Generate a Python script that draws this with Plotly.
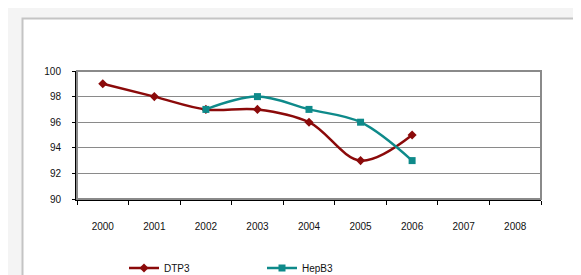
import plotly.graph_objects as go

years = ["2000", "2001", "2002", "2003", "2004", "2005", "2006", "2007", "2008"]
dtp3_years = ["2000", "2001", "2002", "2003", "2004", "2005", "2006"]
dtp3_values = [99, 98, 97, 97, 96, 93, 95]
hepb3_years = ["2002", "2003", "2004", "2005", "2006"]
hepb3_values = [97, 98, 97, 96, 93]
y_ticks = [90, 92, 94, 96, 98, 100]

W, H = 581, 275
L, R, T, B = 69, 533, 63, 191

def px_x(p):
    return (p - L) / (R - L)

def px_y(p):
    return (B - p) / (B - T)

fig = go.Figure()
fig.add_trace(go.Scatter(
    x=dtp3_years, y=dtp3_values, name="DTP3", mode="lines+markers",
    line=dict(color="#8B0A0A", width=2.5, shape="spline", smoothing=1),
    marker=dict(symbol="diamond", size=7, color="#8B0A0A"),
))
fig.add_trace(go.Scatter(
    x=hepb3_years, y=hepb3_values, name="HepB3", mode="lines+markers",
    line=dict(color="#0E8A8A", width=2.5, shape="spline", smoothing=1),
    marker=dict(symbol="square", size=7, color="#0E8A8A"),
))

shapes = [
    # outer white frame
    dict(type="rect", xref="paper", yref="paper", layer="below",
         x0=px_x(14.5), x1=px_x(573.5), y0=px_y(290), y1=px_y(10.5),
         fillcolor="white", line=dict(color="#c4c4c4", width=2)),
    # plot area border (top/right gray)
    dict(type="rect", xref="paper", yref="paper", layer="above",
         x0=0, x1=1, y0=0, y1=1, line=dict(color="#8a8a8a", width=2)),
]

fig.update_layout(
    width=W, height=H,
    margin=dict(l=L, r=W - R, t=T, b=H - B, pad=0, autoexpand=False),
    paper_bgcolor="#f4f4f4", plot_bgcolor="white",
    font=dict(family="Arial, Liberation Sans, sans-serif", size=10, color="#111111"),
    shapes=shapes,
    showlegend=True,
    legend=dict(orientation="h", xref="container", yref="container",
                x=116 / W, y=1 - 260 / H, xanchor="left", yanchor="middle",
                bgcolor="rgba(0,0,0,0)", font=dict(size=10), entrywidth=93, itemwidth=30),
    xaxis=dict(type="category", categoryorder="array", categoryarray=years,
               range=[-0.5, 8.5], tickson="boundaries", ticks="outside", ticklen=4,
               tickcolor="black", showline=True, linecolor="black", linewidth=2,
               showgrid=False, zeroline=False, ticklabelstandoff=17, fixedrange=True,
               automargin=False),
    yaxis=dict(range=[90, 100], tickvals=y_ticks, ticks="outside", ticklen=3,
               tickcolor="black", showline=True, linecolor="black", linewidth=2,
               showgrid=True, gridcolor="#8a8a8a", gridwidth=1, zeroline=False,
               ticklabelstandoff=9, fixedrange=True, automargin=False),
)

fig.write_html("out.html")
